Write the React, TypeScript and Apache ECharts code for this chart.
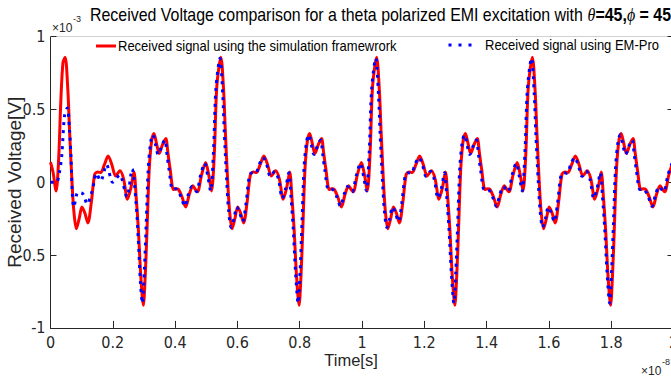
import React, { useEffect, useRef } from "react";
import * as echarts from "echarts";

// time unit: 1e-8 s, voltage unit: 1e-3 V
const xTicks = { min: 0, max: 2, interval: 0.2 };
const yTicks = { min: -1, max: 1, interval: 0.5 };

// simulation framework (red): start transient, then one repeating cycle
const redStart: [number, number][] = [
  [0, 0.137], [0.008, 0.07], [0.018, -0.06], [0.026, 0.15], [0.033, 0.55], [0.04, 0.82],
];
const redCycle: [number, number][] = [
  [0.047, 0.857], [0.056, 0.62], [0.061, 0.364], [0.069, 0.0], [0.075, -0.2], [0.083, -0.32],
  [0.092, -0.25], [0.101, -0.17], [0.11, -0.21], [0.12, -0.28], [0.131, -0.14], [0.142, 0.055],
  [0.152, 0.07], [0.161, 0.066], [0.173, 0.12], [0.185, 0.18], [0.197, 0.12], [0.209, 0.043],
  [0.223, 0.078], [0.235, 0.02], [0.247, -0.117], [0.258, -0.04], [0.268, 0.07], [0.275, -0.1],
  [0.282, -0.32], [0.29, -0.65], [0.298, -0.845], [0.304, -0.65], [0.31, -0.32], [0.317, 0.09],
  [0.325, 0.29], [0.332, 0.335], [0.34, 0.27], [0.349, 0.197], [0.36, 0.26], [0.37, 0.3],
  [0.377, 0.2], [0.384, 0.09], [0.395, -0.05], [0.403, -0.045], [0.411, -0.05], [0.422, -0.1],
  [0.434, -0.17], [0.446, -0.08], [0.457, -0.025], [0.465, -0.05], [0.472, -0.066], [0.485, 0.05],
  [0.498, 0.135], [0.508, 0.05], [0.517, -0.06], [0.526, 0.2], [0.534, 0.66],
];

// EM-Pro (blue): start transient, then one repeating cycle
const blueStart: [number, number][] = [
  [0, 0.0], [0.012, 0.0], [0.02, 0.0], [0.028, 0.06], [0.036, 0.18], [0.045, 0.455], [0.054, 0.51],
  [0.061, 0.36], [0.066, 0.16], [0.07, -0.08], [0.075, -0.17], [0.088, -0.07], [0.104, -0.08],
  [0.118, -0.15], [0.131, -0.08], [0.14, 0.0], [0.147, 0.06], [0.161, 0.01], [0.18, 0.12],
  [0.2, 0.0], [0.222, 0.05], [0.245, -0.1], [0.262, 0.09], [0.275, -0.15], [0.282, -0.4], [0.289, -0.7],
];
const blueCycle: [number, number][] = [
  [0.295, -0.83], [0.301, -0.62], [0.307, -0.3], [0.314, 0.1], [0.322, 0.28], [0.329, 0.325],
  [0.337, 0.26], [0.346, 0.19], [0.357, 0.25], [0.367, 0.29], [0.374, 0.19], [0.381, 0.08],
  [0.392, -0.05], [0.4, -0.045], [0.408, -0.055], [0.419, -0.1], [0.431, -0.165], [0.443, -0.08],
  [0.454, -0.03], [0.462, -0.05], [0.469, -0.065], [0.482, 0.05], [0.495, 0.13], [0.505, 0.04],
  [0.514, -0.06], [0.523, 0.2], [0.531, 0.64], [0.544, 0.85], [0.553, 0.6], [0.558, 0.34],
  [0.566, 0.0], [0.572, -0.2], [0.58, -0.31], [0.589, -0.25], [0.598, -0.17], [0.607, -0.21],
  [0.617, -0.27], [0.628, -0.14], [0.639, 0.05], [0.649, 0.065], [0.658, 0.06], [0.67, 0.12],
  [0.682, 0.17], [0.694, 0.12], [0.706, 0.04], [0.72, 0.075], [0.732, 0.02], [0.744, -0.11],
  [0.755, -0.04], [0.765, 0.065], [0.772, -0.1], [0.779, -0.31], [0.787, -0.63],
];
const cyclePeriod = 0.5;
const cycleCount = 4;

const seriesNames = [
  "Received signal using the simulation framewrork",
  "Received signal using EM-Pro",
];

function buildSeries(start: [number, number][], cycle: [number, number][]) {
  const out: [number, number][] = start.slice();
  for (let k = 0; k < cycleCount; k++) {
    for (const [t, v] of cycle) {
      const tt = +(t + k * cyclePeriod).toFixed(4);
      if (tt <= xTicks.max) out.push([tt, v]);
    }
  }
  return out;
}

const SANS = "'Liberation Sans', Arial, Helvetica, sans-serif";
const NARROW = "'Liberation Sans Narrow', 'Arial Narrow', 'DejaVu Sans Condensed', 'Liberation Sans', sans-serif";
const INK = "#262626";

export default function App() {
  const ref = useRef<HTMLDivElement>(null);
  useEffect(() => {
    if (!ref.current) return;
    const chart = echarts.init(ref.current, undefined, { renderer: "svg" });
    const redData = buildSeries(redStart, redCycle);
    const blueData = buildSeries(blueStart, blueCycle);
    const al = { align: "left", verticalAlign: "middle", textAlign: "left", textVerticalAlign: "middle" };
    const txt = (o: any) => ({ type: "text", silent: true, ...o });
    chart.setOption({
      animation: false,
      backgroundColor: "#ffffff",
      grid: { left: 50.5, top: 36.5, width: 623, height: 291.4, containLabel: false, outerBoundsMode: "none" },
      xAxis: [
        {
          type: "value", min: xTicks.min, max: xTicks.max, interval: xTicks.interval, position: "bottom",
          axisLine: { show: true, onZero: false, lineStyle: { color: INK, width: 1 } },
          axisTick: { show: true, inside: true, length: 7, lineStyle: { color: INK } },
          axisLabel: { color: INK, fontFamily: NARROW, fontSize: 16, margin: 7 },
          splitLine: { show: false },
          name: "Time[s]", nameLocation: "middle", nameGap: 24, nameMoveOverlap: false,
          nameTextStyle: { color: INK, fontFamily: SANS, fontSize: 16.5, padding: [0, 22, 0, 0], verticalAlign: "top" },
        },
        {
          type: "value", min: xTicks.min, max: xTicks.max, position: "top",
          axisLine: { show: true, onZero: false, lineStyle: { color: "#d0d0d0", width: 1 } },
          axisTick: { show: false }, axisLabel: { show: false }, splitLine: { show: false },
        },
      ],
      yAxis: [
        {
          type: "value", min: yTicks.min, max: yTicks.max, interval: yTicks.interval,
          axisLine: { show: true, onZero: false, lineStyle: { color: INK, width: 1 } },
          axisTick: { show: true, inside: true, length: 6, lineStyle: { color: INK } },
          axisLabel: { color: INK, fontFamily: NARROW, fontSize: 16, margin: 5 },
          splitLine: { show: false },
          name: "Received Voltage[V]", nameLocation: "middle", nameGap: 27, nameRotate: 90, nameMoveOverlap: false,
          nameTextStyle: { color: INK, fontFamily: SANS, fontSize: 19 },
        },
        {
          type: "value", min: yTicks.min, max: yTicks.max, interval: yTicks.interval, position: "right",
          axisLine: { show: true, onZero: false, lineStyle: { color: INK, width: 1 } },
          axisTick: { show: true, inside: true, length: 6, lineStyle: { color: INK } },
          axisLabel: { show: false }, splitLine: { show: false },
        },
      ],
      series: [
        {
          name: seriesNames[0], type: "line", data: redData, showSymbol: false, smooth: 0.3,
          lineStyle: { color: "#ff0000", width: 3 }, z: 2, clip: true,
        },
        {
          name: seriesNames[1], type: "line", data: blueData, showSymbol: false, smooth: 0.3,
          lineStyle: { color: "#0000ff", width: 3, type: [3, 5], cap: "butt" }, z: 3, clip: true,
        },
      ],
      graphic: [
        txt({
          x: 90, y: 15, scaleX: 0.885,
          style: {
            text: "{n|Received Voltage comparison for a theta polarized EMI excitation with }{i|θ}{b|=45,}{i|ϕ}{b| = 45}",
            rich: {
              n: { fontSize: 18, fontFamily: SANS, fill: "#000" },
              i: { fontSize: 18, fontFamily: "'Liberation Serif', serif", fontStyle: "italic", fill: "#000" },
              b: { fontSize: 18, fontFamily: SANS, fontWeight: "bold", fill: "#000" },
            },
            fontSize: 18, fontFamily: SANS, fill: "#000", ...al,
          },
        }),
        txt({ x: 52, y: 28, style: { text: "×10", fontSize: 12, fontFamily: SANS, fill: INK, ...al } }),
        txt({ x: 73, y: 19, style: { text: "-3", fontSize: 9, fontFamily: SANS, fill: INK, ...al } }),
        txt({ x: 641, y: 371, style: { text: "×10", fontSize: 12, fontFamily: SANS, fill: INK, ...al } }),
        txt({ x: 662, y: 362, style: { text: "-8", fontSize: 9, fontFamily: SANS, fill: INK, ...al } }),
        { type: "line", silent: true, shape: { x1: 96, y1: 46, x2: 116, y2: 46 }, style: { stroke: "#ff0000", lineWidth: 3 } },
        txt({ x: 118, y: 46, scaleX: 0.89, style: { text: seriesNames[0], fontSize: 14.6, fontFamily: SANS, fill: "#000", ...al } }),
        { type: "line", silent: true, shape: { x1: 448.5, y1: 45, x2: 472.5, y2: 45 }, style: { stroke: "#0000ff", lineWidth: 3, lineDash: [3, 7] } },
        txt({ x: 485, y: 45, scaleX: 0.89, style: { text: seriesNames[1], fontSize: 14.6, fontFamily: SANS, fill: "#000", ...al } }),
      ],
    });
    return () => chart.dispose();
  }, []);
  return <div ref={ref} style={{ width: 671, height: 381, position: "fixed", left: 0, top: 0, background: "#fff" }} />;
}
